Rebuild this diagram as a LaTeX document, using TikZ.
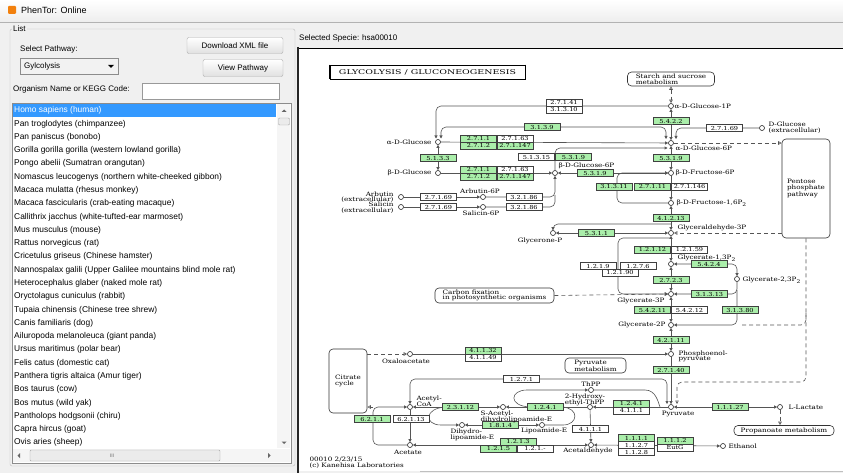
\documentclass[tikz,border=0pt]{standalone}
\usepackage{fontspec}
\setmainfont{Liberation Sans}
\newfontfamily\keggfont{DejaVu Serif}[FakeStretch=1.2]
\newfontfamily\titlefont{DejaVu Serif}[FakeStretch=1.45]
\usetikzlibrary{arrows.meta,positioning}
\definecolor{keggreen}{RGB}{170,238,170}
\definecolor{winbg}{RGB}{240,240,240}
\definecolor{selblue}{RGB}{51,153,255}
\definecolor{btnline}{RGB}{172,172,172}
\definecolor{rxngray}{RGB}{85,85,85}

\tikzset{
  ec/.style={draw=black!75, fill=white, line width=0.5pt, inner sep=0pt,
    minimum width=36pt, minimum height=7pt, font=\keggfont\fontsize{5.5}{5.5}\selectfont},
  ecg/.style={ec, fill=keggreen},
  cpd/.style={circle, draw=black!85, fill=white, line width=0.6pt, inner sep=0pt, minimum size=5pt},
  clab/.style={inner sep=0.3pt, align=left, font=\keggfont\fontsize{6}{5.6}\selectfont},
  mapbox/.style={draw=black!80, rounded corners=4pt, line width=0.6pt, align=left,
    inner sep=0pt, font=\keggfont\fontsize{6}{5.6}\selectfont},
  rxn/.style={draw=rxngray, line width=0.6pt, rounded corners=5pt},
  rel/.style={draw=rxngray, line width=0.6pt, dash pattern=on 4pt off 3pt, rounded corners=5pt},
  fw/.style={-{Triangle[length=3pt,width=3pt]}},
  bw/.style={{Triangle[length=3pt,width=3pt]}-},
  bi/.style={{Triangle[length=3pt,width=3pt]}-{Triangle[length=3pt,width=3pt]}},
  opn/.style={-{Triangle[open,length=3.5pt,width=3.5pt]}},
  opn2/.style={{Triangle[open,length=3.5pt,width=3.5pt]}-{Triangle[open,length=3.5pt,width=3.5pt]}},
  gui/.style={font=\fontsize{8}{9}\selectfont, inner sep=0pt, anchor=west},
  listitem/.style={gui, font=\fontsize{8.4}{9}\selectfont},
  button/.style={draw=btnline, rounded corners=2pt, top color=white, bottom color=black!12,
    font=\fontsize{8}{9}\selectfont, inner sep=0pt},
}

\begin{document}
\begin{tikzpicture}[x=1pt,y=-1pt]
\useasboundingbox (0,0) rectangle (843,473);

% window frame
\fill[winbg] (0,0) rectangle (843,473);
\fill[top color=white, bottom color=black!7] (0,0) rectangle (843,22);
\draw[black!30] (0,22) -- (843,22);
\node[fill=orange!80!brown, minimum size=8pt, inner sep=0pt, rounded corners=1pt] (appicon) at (12,10) {};
\node[gui, font=\fontsize{9}{10}\selectfont] (wintitle) at (21,10) {PhenTor: Online};

% left panel
\draw[black!25, rounded corners=2pt] (10,29) rectangle (295,466);
\node[gui, fill=winbg, inner xsep=1pt] (listcap) at (12,29) {List};
\node[gui] (selpath) at (20,49) {Select Pathway:};
\node[draw=black!45, fill=black!5, minimum width=98pt, minimum height=16pt, anchor=north west, inner sep=0pt] (pathbox) at (20,58) {};
\node[gui] (pathval) at (24,66) {Gylcolysis};
\fill[black] (108,65) -- (114,65) -- (111,68) -- cycle;
\node[button, minimum width=96pt, minimum height=16pt] (dlbtn) at (235,45.5) {Download XML file};
\node[button, minimum width=80pt, minimum height=17pt] (viewbtn) at (243,68) {View Pathway};
\node[gui] (orglab) at (13,89) {Organism Name or KEGG Code:};
\node[draw=black!40, fill=white, minimum width=137pt, minimum height=16pt, anchor=west, inner sep=0pt] (orgfield) at (142,91.5) {};

% species list
\draw[black!45, fill=white] (12,103) rectangle (291,463);
\fill[selblue] (13,104) rectangle (276,117);
\node[listitem, text=white] (sp0) at (14,110.7) {Homo sapiens (human)};
\foreach \sp [count=\i] in {Pan troglodytes (chimpanzee), Pan paniscus (bonobo),
  Gorilla gorilla gorilla (western lowland gorilla), Pongo abelii (Sumatran orangutan),
  Nomascus leucogenys (northern white-cheeked gibbon), Macaca mulatta (rhesus monkey),
  Macaca fascicularis (crab-eating macaque), Callithrix jacchus (white-tufted-ear marmoset),
  Mus musculus (mouse), Rattus norvegicus (rat), Cricetulus griseus (Chinese hamster),
  Nannospalax galili (Upper Galilee mountains blind mole rat), Heterocephalus glaber (naked mole rat),
  Oryctolagus cuniculus (rabbit), Tupaia chinensis (Chinese tree shrew), Canis familiaris (dog),
  Ailuropoda melanoleuca (giant panda), Ursus maritimus (polar bear), Felis catus (domestic cat),
  Panthera tigris altaica (Amur tiger), Bos taurus (cow), Bos mutus (wild yak),
  Pantholops hodgsonii (chiru), Capra hircus (goat), Ovis aries (sheep)}
  \node[listitem] (sp\i) at (14,{110.7+13.28*\i}) {\sp};
% scrollbars
\fill[black!4] (277,104) rectangle (290,448);
\draw[black!35, fill=black!8, rounded corners=1pt] (278.5,118) rectangle (289.5,125);
\fill[black!60] (281.5,112) -- (286.5,112) -- (284,109.5) -- cycle;
\fill[black!60] (281.5,441.5) -- (286.5,441.5) -- (284,444) -- cycle;
\fill[black!4] (13,449) rectangle (290,462);
\draw[black!35, fill=black!8, rounded corners=1pt] (30,450) rectangle (220,461);
\node[font=\fontsize{5}{5}\selectfont, inner sep=0pt, text=black!60] (hgrip) at (112,455.5) {III};
\fill[black!60] (20,453) -- (20,458) -- (17.5,455.5) -- cycle;
\fill[black!60] (268,453) -- (268,458) -- (270.5,455.5) -- cycle;

% right panel
\node[gui] (selspec) at (299,38) {Selected Specie: hsa00010};
\fill[white] (298,48) rectangle (843,471);
\draw[black, line width=0.7pt] (297.5,48) -- (843,48);
\draw[black!85, line width=1.8pt] (298,47.5) -- (298,473);
\draw[black!25] (420,471) -- (843,471);

% map title
\node[draw=black, line width=0.7pt, minimum width=195pt, minimum height=14pt, inner sep=0pt,
  font=\titlefont\fontsize{6.5}{7}\selectfont] (maptitle) at (427.5,72) {GLYCOLYSIS / GLUCONEOGENESIS};
\draw[line width=1.4pt] (maptitle.north west) -- (maptitle.south west);
\draw[line width=1.4pt] (maptitle.north east) -- (maptitle.south east);

% compounds
\node[cpd] (g1p) at (671,106) {};
\node[cpd] (g6p) at (671,143) {};
\node[cpd] (f6p) at (671,173) {};
\node[cpd] (fbp) at (671,203) {};
\node[cpd] (gap) at (671,233) {};
\node[cpd] (bpg) at (671,264) {};
\node[cpd] (bpg23) at (737,279) {};
\node[cpd] (pg3) at (671,294) {};
\node[cpd] (pg2) at (671,325) {};
\node[cpd] (pep) at (671,354) {};
\node[cpd] (pyr) at (671,407) {};
\node[cpd] (lac) at (780,407) {};
\node[cpd] (aglc) at (438,142) {};
\node[cpd] (bglc) at (438,173) {};
\node[cpd] (bg6p) at (555,173) {};
\node[cpd] (dglc) at (762,128) {};
\node[cpd] (arb) at (401,197) {};
\node[cpd] (arb6p) at (483,197) {};
\node[cpd] (sal) at (401,207) {};
\node[cpd] (sal6p) at (483,207) {};
\node[cpd] (dhap) at (553,233) {};
\node[cpd] (oaa) at (410,354) {};
\node[cpd] (accoa) at (410,407) {};
\node[cpd] (sacl) at (503,407) {};
\node[cpd] (hthpp) at (590,407) {};
\node[cpd] (thpp) at (591,390) {};
\node[cpd] (dhlip) at (462,425) {};
\node[cpd] (lip) at (542,425) {};
\node[cpd] (acet) at (410,445) {};
\node[cpd] (acald) at (591,445) {};
\node[cpd] (etoh) at (723,446) {};

% linked maps
\node[mapbox, minimum width=87pt, minimum height=14pt] (starch) at (671,79) {Starch and sucrose\\metabolism};
\node[mapbox, minimum width=48pt, minimum height=99pt] (ppp) at (806,188.5) {Pentose\\phosphate\\pathway};
\node[mapbox, minimum width=119pt, minimum height=15pt] (cfix) at (494.5,295.5) {Carbon fixation\\in photosynthetic organisms};
\node[mapbox, minimum width=61pt, minimum height=15pt] (pyrmet) at (595.5,365.5) {Pyruvate\\metabolism};
\node[mapbox, minimum width=38pt, minimum height=64pt] (tca) at (348,381) {Citrate\\cycle};
\node[mapbox, minimum width=100pt, minimum height=10pt] (propmet) at (784,430.5) {Propanoate metabolism};

% main chain
\draw[rxn,bi] (g1p) -- (g6p);
\draw[rxn,bi] (g6p) -- (f6p);
\draw[rxn,fw] (f6p) -- (fbp);
\draw[rxn,fw] (fbp.west) -- (617,203) -- (617,173) -- (f6p.west);
\draw[rxn,bi] (fbp) -- (gap);
\draw[rxn,fw] (671,224) -- (553,224) -- (dhap.north);
\draw[rxn,bi] (dhap) -- (gap);
\draw[rxn,bi] (gap) -- (bpg);
\draw[rxn,fw] (671,238) -- (618,238) -- (618,294) -- (pg3.west);
\draw[rxn,bi] (bpg) -- (pg3);
\draw[rxn,bi] (bpg.east) -- (737,264) -- (bpg23.north);
\draw[rxn,fw] (bpg23.south) -- (737,294) -- (pg3.east);
\draw[rxn,fw] (737,290) -- (737,325) -- (pg2.east);
\draw[rxn,bi] (pg3) -- (pg2);
\draw[rxn,bi] (pg2) -- (pep);
\draw[rxn,fw] (pep) -- (pyr);
\draw[rxn,fw] (oaa) -- (pep);
\draw[rxn,bi] (pyr) -- (lac);

% glucose entry
\draw[rxn,fw] (g1p.west) -- (436,106) -- (436,138.5);
\draw[rxn,bi] (441,138.5) -- (441,127) -- (666,127) -- (666,139);
\draw[rxn,fw] (dglc.west) -- (676,128) -- (676,139);
\draw[rxn,fw] (aglc) -- (g6p);
\draw[rxn,bi] (aglc) -- (bglc);
\draw[rxn,fw] (bglc) -- (bg6p);
\draw[rxn,fw] (bg6p.north) -- (555,148) -- (667.5,148);
\draw[rxn,bi] (bg6p) -- (f6p);
\draw[rxn,fw] (arb) -- (arb6p);
\draw[rxn,fw] (sal) -- (sal6p);
\draw[rxn,fw] (arb6p.east) -- (555,197) -- (bg6p.south);
\draw[rxn] (sal6p.east) -- (555,207) -- (555,195);

% pyruvate to acetyl-CoA, ethanol
\draw[rxn,bi] (accoa) -- (sacl);
\draw[rxn,bw] (sacl) -- (hthpp);
\draw[rxn,fw] (pyr) -- (hthpp);
\draw[rxn,bi] (accoa.north) -- (410,379) -- (667,379) -- (667,404);
\draw[rxn,fw] (530,407) .. controls (508,406) and (510,390) .. (532,390) -- (thpp.west);
\draw[rxn] (thpp.east) -- (640,390) .. controls (656,390) and (658,402) .. (660,407);
\draw[rxn,fw] (446,407) .. controls (424,408) and (424,425) .. (446,425) -- (dhlip.west);
\draw[rxn,bi] (dhlip) -- (lip);
\draw[rxn] (lip.east) -- (558,425) .. controls (578,425) and (580,408) .. (562,407);
\draw[rxn,fw] (hthpp) -- (acald);
\draw[rxn,fw] (accoa) -- (acet);
\draw[rxn,fw] (acet.west) -- (373,445) -- (373,407) -- (accoa.west);
\draw[rxn,bi] (acet) -- (acald);
\draw[rxn,bi] (acald) -- (etoh);

% relations to other maps
\draw[rel,opn2] (starch.south -| g1p) -- (g1p.north);
\draw[rel,opn] (g6p.east) -- (ppp.west |- g6p);
\draw[rel,opn] (ppp.west |- gap) -- (gap.east);
\draw[rel,opn] (ppp.south) -- (806,382) -- (677,382) -- (677,404);
\draw[rel] (742,325) -- (806,325) -- (806,312);
\draw[rel,opn] (cfix.east) -- (pg3.west);
\draw[rel,opn] (tca.east |- oaa) -- (oaa.west);
\draw[rel,opn] (373,407) -- (tca.east |- accoa);
\draw[rel,opn] (lac.south) -- (propmet.north -| lac);

% enzymes
\node[ec]  (e27141) at (564,102.5) {2.7.1.41};
\node[ec]  (e31310) at (564,109.5) {3.1.3.10};
\node[ecg] (e3139)  at (542,127) {3.1.3.9};
\node[ecg] (e2711a) at (478.5,138.5) {2.7.1.1};
\node[ec]  (e27163a) at (515,138.5) {2.7.1.63};
\node[ecg] (e2712a) at (478.5,145.5) {2.7.1.2};
\node[ecg] (e271147a) at (515,145.5) {2.7.1.147};
\node[ecg] (e5133)  at (438,158) {5.1.3.3};
\node[ec]  (e51315) at (536.5,157) {5.1.3.15};
\node[ecg] (e5319a) at (573.5,157) {5.3.1.9};
\node[ecg] (e2711b) at (478.5,169.5) {2.7.1.1};
\node[ec]  (e27163b) at (515,169.5) {2.7.1.63};
\node[ecg] (e2712b) at (478.5,176.5) {2.7.1.2};
\node[ecg] (e271147b) at (515,176.5) {2.7.1.147};
\node[ecg] (e5319b) at (595,173) {5.3.1.9};
\node[ec]  (e27169a) at (438.5,197) {2.7.1.69};
\node[ec]  (e27169b) at (438.5,207) {2.7.1.69};
\node[ec]  (e32186a) at (524,197) {3.2.1.86};
\node[ec]  (e32186b) at (524,207) {3.2.1.86};
\node[ecg] (e5422)  at (671,121) {5.4.2.2};
\node[ec]  (e27169c) at (724.5,128) {2.7.1.69};
\node[ecg] (e5319c) at (671,158) {5.3.1.9};
\node[ecg] (e31311) at (614,186.5) {3.1.3.11};
\node[ecg] (e27111) at (652.5,186.5) {2.7.1.11};
\node[ec]  (e271146) at (689.5,186.5) {2.7.1.146};
\node[ecg] (e41213) at (671,218) {4.1.2.13};
\node[ecg] (e5311)  at (596.5,233) {5.3.1.1};
\node[ecg] (e12112) at (652.5,249.5) {1.2.1.12};
\node[ec]  (e12159) at (689.5,249.5) {1.2.1.59};
\node[ec]  (e1219)  at (598,266) {1.2.1.9};
\node[ec]  (e1276)  at (638,266) {1.2.7.6};
\node[ec]  (e12190) at (620,272.5) {1.2.1.90};
\node[ecg] (e5424)  at (709,264) {5.4.2.4};
\node[ecg] (e2723)  at (671,280) {2.7.2.3};
\node[ecg] (e31313) at (709.5,294) {3.1.3.13};
\node[ecg] (e54211) at (652.5,310) {5.4.2.11};
\node[ec]  (e54212) at (689.5,310) {5.4.2.12};
\node[ecg] (e31380) at (740,310) {3.1.3.80};
\node[ecg] (e42111) at (671,340) {4.2.1.11};
\node[ecg] (e41132) at (483,350.5) {4.1.1.32};
\node[ec]  (e41149) at (483,357.5) {4.1.1.49};
\node[ecg] (e27140) at (671,370) {2.7.1.40};
\node[ec]  (e1271)  at (521.5,379) {1.2.7.1};
\node[ecg] (e23112) at (460.5,407) {2.3.1.12};
\node[ecg] (e1241a) at (545,407) {1.2.4.1};
\node[ecg] (e1241b) at (631.5,403.5) {1.2.4.1};
\node[ec]  (e4111a) at (631.5,410.5) {4.1.1.1};
\node[ecg] (e11127) at (730,407) {1.1.1.27};
\node[ecg] (e6211)  at (372,419) {6.2.1.1};
\node[ec]  (e62113) at (411,419) {6.2.1.13};
\node[ecg] (e1814)  at (500.5,425) {1.8.1.4};
\node[ec]  (e4111b) at (590.5,429) {4.1.1.1};
\node[ecg] (e1213)  at (518,441.5) {1.2.1.3};
\node[ecg] (e1215)  at (498.5,448.5) {1.2.1.5};
\node[ec]  (e121x)  at (535,448.5) {1.2.1.-};
\node[ecg] (e1111)  at (636.5,438) {1.1.1.1};
\node[ec]  (e1127)  at (636.5,445) {1.1.2.7};
\node[ec]  (e1128)  at (636.5,452) {1.1.2.8};
\node[ecg] (e1112)  at (675,440.5) {1.1.1.2};
\node[ec]  (eeutg)  at (675,447.5) {EutG};

% compound names
\node[clab, anchor=west] (g1pL) at (674,106) {α-D-Glucose-1P};
\node[clab, anchor=west] (g6pL) at (675,148.5) {α-D-Glucose-6P};
\node[clab, anchor=west] (f6pL) at (675,173) {β-D-Fructose-6P};
\node[clab, anchor=west] (fbpL) at (676,203) {β-D-Fructose-1,6P\textsubscript{2}};
\node[clab, anchor=west] (gapL) at (677,228) {Glyceraldehyde-3P};
\node[clab] (dhapL) at (540,241) {Glycerone-P};
\node[clab, anchor=west] (bpgL) at (677,258) {Glycerate-1,3P\textsubscript{2}};
\node[clab, anchor=west] (bpg23L) at (742,280) {Glycerate-2,3P\textsubscript{2}};
\node[clab] (pg3L) at (641,301) {Glycerate-3P};
\node[clab, anchor=east] (pg2L) at (666,325) {Glycerate-2P};
\node[clab, anchor=north west] (pepL) at (678,350) {Phosphoenol-\\pyruvate};
\node[clab] (pyrL) at (678,414) {Pyruvate};
\node[clab, anchor=west] (lacL) at (788,407) {L-Lactate};
\node[clab, anchor=east] (aglcL) at (432,142) {α-D-Glucose};
\node[clab, anchor=east] (bglcL) at (432,173) {β-D-Glucose};
\node[clab, anchor=west] (bg6pL) at (558,166) {β-D-Glucose-6P};
\node[clab, anchor=west] (dglcL) at (768,127.5) {D-Glucose\\(extracellular)};
\node[clab, anchor=east, align=right] (arbL) at (394,197) {Arbutin\\(extracellular)};
\node[clab, anchor=east, align=right] (salL) at (394,207.5) {Salicin\\(extracellular)};
\node[clab] (arb6pL) at (480,191) {Arbutin-6P};
\node[clab] (sal6pL) at (481,213) {Salicin-6P};
\node[clab] (oaaL) at (406,361) {Oxaloacetate};
\node[clab, anchor=north west] (accoaL) at (416,395) {Acetyl-\\CoA};
\node[clab, anchor=north west] (saclL) at (480,410) {S-Acetyl-\\dihydrolipoamide-E};
\node[clab, anchor=north] (hthppL) at (585,393) {2-Hydroxy-\\ethyl-ThPP};
\node[clab] (thppL) at (591,384) {ThPP};
\node[clab, anchor=north west] (dhlipL) at (450,428) {Dihydro-\\lipoamide-E};
\node[clab] (lipL) at (544,431) {Lipoamide-E};
\node[clab] (acetL) at (408,452) {Acetate};
\node[clab] (acaldL) at (588,451) {Acetaldehyde};
\node[clab, anchor=west] (etohL) at (728,446) {Ethanol};

% footer
\node[clab, anchor=north west] (mapdate) at (309,457) {00010 2/23/15\\(c) Kanehisa Laboratories};
\end{tikzpicture}
\end{document}
